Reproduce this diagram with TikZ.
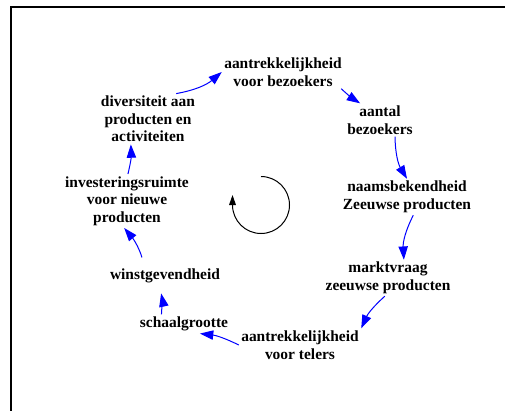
\documentclass[tikz,border=0pt]{standalone}
\usepackage{fontspec}
\setmainfont{Liberation Serif}
\usetikzlibrary{arrows.meta}

\tikzset{every picture/.style={line width=0.75pt}}
\tikzset{
  factor/.style={align=center, inner sep=1.5pt, font=\fontsize{11.6}{13.1}\selectfont\bfseries},
  link/.style={draw={rgb,255:red,0;green,0;blue,255}, line width=0.75pt, -{Stealth[inset=0pt,length=10pt,width=7pt,fill={rgb,255:red,0;green,0;blue,255}]}},
  loop/.style={draw=black, line width=0.75pt, -{Stealth[inset=0pt,length=7.5pt,width=5pt]}}
}

\begin{document}
\begin{tikzpicture}[x=0.75pt,y=0.75pt,yscale=-1,xscale=1]
\useasboundingbox (0,0) rectangle (505,410);

%Shape: Frame
\draw [line width=1.5pt] (11,411) -- (11,7) -- (506,7) ;

% Text Node
\node [factor] (bezoek) at (283,72) {aantrekkelijkheid\\voor bezoekers};
% Text Node
\node [factor] (aantal) at (380,120) {aantal\\bezoekers};
% Text Node
\node [factor] (naams) at (407,197) {naamsbekendheid\\Zeeuwse producten};
% Text Node
\node [factor] (markt) at (388,278) {marktvraag\\zeeuwse producten};
% Text Node
\node [factor] (telers) at (300,345) {aantrekkelijkheid\\voor telers};
% Text Node
\node [factor] (schaal) at (184,324) {schaalgrootte};
% Text Node
\node [factor] (winst) at (165,276) {winstgevendheid};
% Text Node
\node [factor] (invest) at (127,201) {investeringsruimte\\voor nieuwe\\producten};
% Text Node
\node [factor] (divers) at (148,119) {diversiteit aan\\producten en\\activiteiten};

%Curve Lines
\draw [link] (divers.42) to [bend left=15] (bezoek.west) ;
\draw [link] (bezoek.-16) to [bend left=5] (aantal.140) ;
\draw [link] (aantal.-48) to [bend left=15] (naams.north) ;
\draw [link] (naams.-71) to [bend left=15] (markt.49) ;
\draw [link] (markt.-100) to [bend left=12] (telers.north east) ;
\draw [link] (telers.west) to [bend left=10] (schaal.-31) ;
\draw [link, shorten >=6pt] (schaal.157) to [bend left=8] (winst.-120) ;
\draw [link, shorten <=7pt] (winst.155) to [bend left=12] (invest.-96) ;
\draw [link] (invest.88) to [bend left=8] (divers.-124) ;

%Loop
\coordinate (looptop) at (261,176.5) ;
\draw [loop] (looptop) arc [start angle=270, end angle=540, radius=28.5] -- ++(0,-10) ;

\end{tikzpicture}
\end{document}
